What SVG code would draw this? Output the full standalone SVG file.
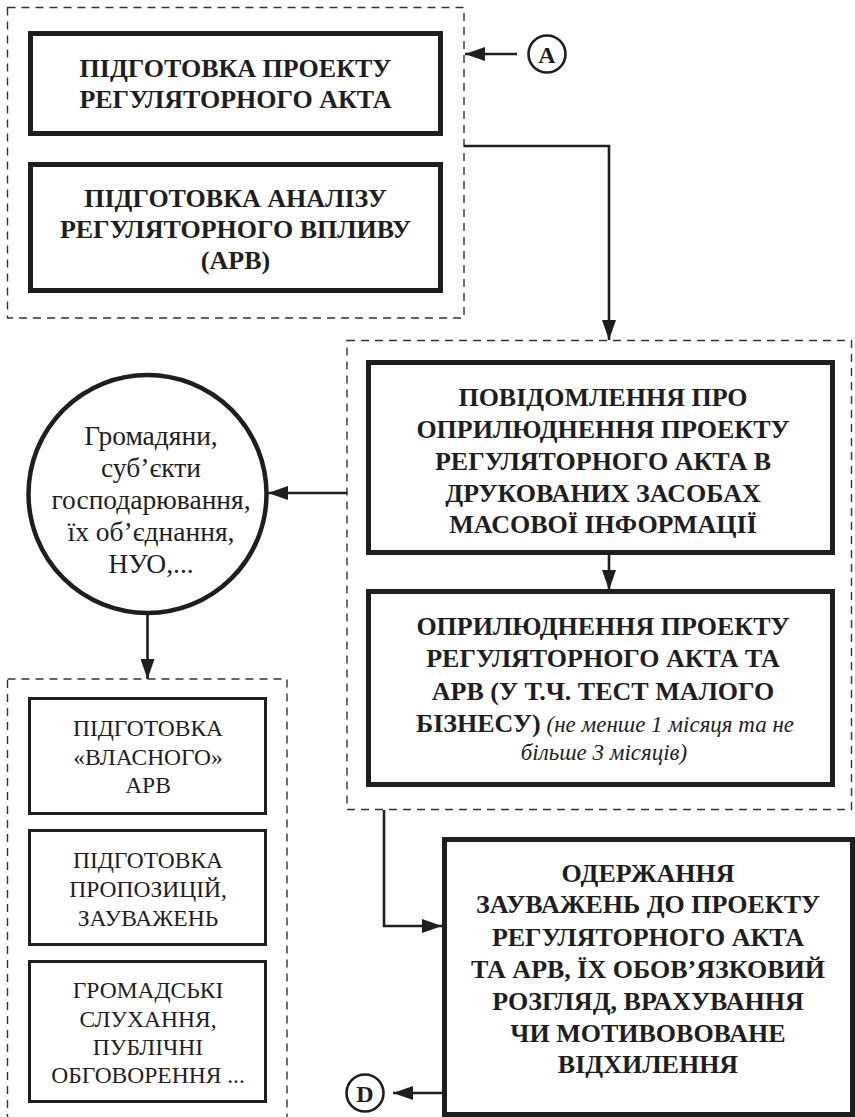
<svg xmlns="http://www.w3.org/2000/svg" width="855" height="1117" viewBox="0 0 855 1117">
<defs>
<style>
.dash{fill:none;stroke:#333;stroke-width:1.4;stroke-dasharray:8 6}
.thick{fill:#fff;stroke:#1e1e1e;stroke-width:5}
.thin{fill:#fff;stroke:#1e1e1e;stroke-width:3}
.con{fill:none;stroke:#1e1e1e;stroke-width:2.6}
.b{font-family:"Liberation Serif","Times New Roman",serif;font-weight:bold;font-size:26px;fill:#1e1e1e;text-anchor:middle}
.r{font-family:"Liberation Serif","Times New Roman",serif;font-size:23.5px;fill:#1e1e1e;text-anchor:middle}
.c{font-family:"Liberation Serif","Times New Roman",serif;font-size:27.5px;fill:#1e1e1e;text-anchor:middle}
.it{font-style:italic;font-weight:normal;font-size:23px}
.lbl{font-family:"Liberation Serif","Times New Roman",serif;font-weight:bold;font-size:24px;fill:#1e1e1e;text-anchor:middle}
</style>
<marker id="ah" viewBox="0 0 20 14" refX="20" refY="7" markerWidth="20" markerHeight="14" markerUnits="userSpaceOnUse" orient="auto">
<path d="M0,0 L20,7 L0,14 z" fill="#1e1e1e"/>
</marker>
</defs>

<g id="group1">
<rect class="dash" x="7.5" y="7.5" width="456.5" height="310.5"/>
</g>
<g id="group2">
<rect class="dash" x="347" y="340.5" width="504.5" height="469"/>
</g>
<g id="group3">
<rect class="dash" x="7.5" y="679" width="279.5" height="460"/>
</g>

<g id="connectors">
<line class="con" x1="517" y1="54" x2="465" y2="54" marker-end="url(#ah)"/>
<polyline class="con" points="464,146 609,146 609,340" marker-end="url(#ah)"/>
<line class="con" x1="609" y1="555" x2="609" y2="590" marker-end="url(#ah)"/>
<line class="con" x1="347" y1="493" x2="268" y2="493" marker-end="url(#ah)"/>
<line class="con" x1="147.5" y1="614" x2="147.5" y2="679" marker-end="url(#ah)"/>
<polyline class="con" points="384,810 384,926 442,926" marker-end="url(#ah)"/>
<line class="con" x1="442" y1="1093" x2="393" y2="1093" marker-end="url(#ah)"/>
</g>

<g id="nodeA">
<circle cx="547" cy="54" r="18.5" fill="#fff" stroke="#1e1e1e" stroke-width="2.6"/>
<text class="lbl" x="547" y="62.5">A</text>
</g>
<g id="nodeD">
<circle cx="365" cy="1093" r="18.5" fill="#fff" stroke="#1e1e1e" stroke-width="2.6"/>
<text class="lbl" x="365" y="1101.5">D</text>
</g>

<g id="box1">
<rect class="thick" x="30.5" y="33.5" width="410" height="100"/>
<text class="b" x="235.5" y="77">ПІДГОТОВКА ПРОЕКТУ</text>
<text class="b" x="235.5" y="108">РЕГУЛЯТОРНОГО АКТА</text>
</g>
<g id="box2">
<rect class="thick" x="30.5" y="164.5" width="410" height="126"/>
<text class="b" x="235.5" y="207">ПІДГОТОВКА АНАЛІЗУ</text>
<text class="b" x="235.5" y="238">РЕГУЛЯТОРНОГО ВПЛИВУ</text>
<text class="b" x="235.5" y="269">(АРВ)</text>
</g>

<g id="box3">
<rect class="thick" x="368.5" y="362.5" width="464" height="190"/>
<text class="b" x="603" y="406">ПОВІДОМЛЕННЯ ПРО</text>
<text class="b" x="603" y="438">ОПРИЛЮДНЕННЯ ПРОЕКТУ</text>
<text class="b" x="603" y="470">РЕГУЛЯТОРНОГО АКТА В</text>
<text class="b" x="603" y="502">ДРУКОВАНИХ ЗАСОБАХ</text>
<text class="b" x="603" y="533">МАСОВОЇ ІНФОРМАЦІЇ</text>
</g>
<g id="box4">
<rect class="thick" x="368.5" y="591.5" width="464" height="193"/>
<text class="b" x="603" y="635">ОПРИЛЮДНЕННЯ ПРОЕКТУ</text>
<text class="b" x="603" y="667">РЕГУЛЯТОРНОГО АКТА ТА</text>
<text class="b" x="603" y="700">АРВ (У Т.Ч. ТЕСТ МАЛОГО</text>
<text class="b" x="605" y="732">БІЗНЕСУ)<tspan class="it"> (не менше 1 місяця та не</tspan></text>
<text class="b it" x="604" y="760">більше 3 місяців)</text>
</g>

<g id="circle">
<circle cx="147.5" cy="494" r="119" fill="#fff" stroke="#1e1e1e" stroke-width="4.5"/>
<text class="c" x="151" y="445">Громадяни,</text>
<text class="c" x="151" y="477">суб’єкти</text>
<text class="c" x="151" y="509">господарювання,</text>
<text class="c" x="151" y="541">їх об’єднання,</text>
<text class="c" x="151" y="573">НУО,...</text>
</g>

<g id="box5">
<rect class="thin" x="29.5" y="698.5" width="236" height="115"/>
<text class="r" x="148" y="736">ПІДГОТОВКА</text>
<text class="r" x="148" y="765">«ВЛАСНОГО»</text>
<text class="r" x="148" y="793">АРВ</text>
</g>
<g id="box6">
<rect class="thin" x="29.5" y="830.5" width="236" height="114"/>
<text class="r" x="148" y="868">ПІДГОТОВКА</text>
<text class="r" x="148" y="897">ПРОПОЗИЦІЙ,</text>
<text class="r" x="148" y="926">ЗАУВАЖЕНЬ</text>
</g>
<g id="box7">
<rect class="thin" x="29.5" y="961.5" width="236" height="140"/>
<text class="r" x="148" y="998">ГРОМАДСЬКІ</text>
<text class="r" x="148" y="1027">СЛУХАННЯ,</text>
<text class="r" x="148" y="1055">ПУБЛІЧНІ</text>
<text class="r" x="148" y="1083">ОБГОВОРЕННЯ ...</text>
</g>

<g id="box8">
<rect class="thick" x="444.5" y="839.5" width="408" height="275"/>
<text class="b" x="648" y="882">ОДЕРЖАННЯ</text>
<text class="b" x="648" y="913">ЗАУВАЖЕНЬ ДО ПРОЕКТУ</text>
<text class="b" x="648" y="946">РЕГУЛЯТОРНОГО АКТА</text>
<text class="b" x="648" y="978">ТА АРВ, ЇХ ОБОВ’ЯЗКОВИЙ</text>
<text class="b" x="648" y="1010">РОЗГЛЯД, ВРАХУВАННЯ</text>
<text class="b" x="648" y="1042">ЧИ МОТИВОВОВАНЕ</text>
<text class="b" x="648" y="1073">ВІДХИЛЕННЯ</text>
</g>
</svg>
